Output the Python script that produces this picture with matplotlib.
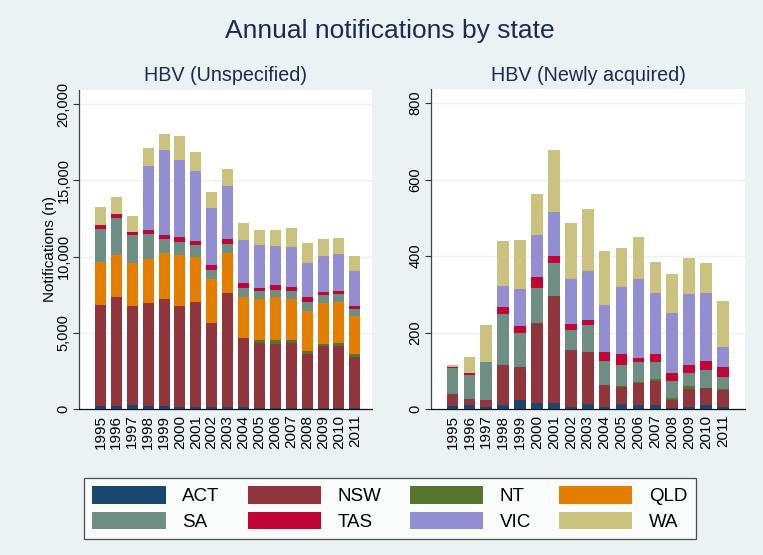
import matplotlib
matplotlib.use("Agg")
import matplotlib.pyplot as plt
import matplotlib.patches as mpatches
from matplotlib.ticker import FuncFormatter
import numpy as np

plt.rcParams['font.family'] = ['Liberation Sans', 'DejaVu Sans']

years = list(range(1995, 2012))
states = ["ACT", "NSW", "NT", "QLD", "SA", "TAS", "VIC", "WA"]
colors = ["#1a476f", "#90353b", "#55752f", "#e37e00", "#6e8e84", "#c10534", "#938dd2", "#cac27e"]

# HBV (Unspecified)
unspec_ACT = [220, 175, 240, 219, 175, 110, 131, 153, 153, 110, 88, 88, 88, 88, 66, 88, 88]
unspec_NSW = [6635, 7162, 6527, 6723, 7030, 6635, 6877, 5475, 7468, 4577, 4226, 4182, 4226, 3504, 4073, 4051, 3350]
unspec_NT = [0, 0, 0, 0, 0, 0, 0, 0, 0, 0, 241, 241, 197, 219, 153, 175, 197]
unspec_QLD = [2800, 2803, 2847, 2891, 3022, 3351, 2957, 2891, 2606, 2650, 2650, 2826, 2694, 2606, 2650, 2738, 2453]
unspec_SA = [2146, 2365, 1796, 1665, 920, 854, 788, 613, 592, 613, 526, 503, 570, 613, 548, 482, 460]
unspec_TAS = [263, 263, 219, 262, 307, 329, 307, 351, 328, 306, 219, 285, 219, 307, 219, 241, 219]
unspec_VIC = [0, 0, 0, 4205, 5540, 5080, 4533, 3701, 3460, 2869, 2825, 2562, 2671, 2233, 2365, 2430, 2278]
unspec_WA = [1183, 1117, 1051, 1139, 1052, 1577, 1248, 1073, 1117, 1095, 1007, 1051, 1205, 1336, 1095, 1052, 1029]

# HBV (Newly acquired)
new_ACT = [9, 10, 5, 10, 24, 17, 17, 5, 12, 5, 14, 11, 11, 3, 5, 10, 5]
new_NSW = [30, 17, 19, 105, 87, 207, 278, 150, 136, 59, 43, 56, 62, 21, 48, 46, 46]
new_NT = [0, 0, 0, 0, 0, 0, 0, 0, 0, 0, 2, 4, 5, 6, 6, 0, 2]
new_QLD = [0, 0, 0, 0, 0, 0, 0, 0, 0, 0, 0, 0, 0, 0, 0, 0, 0]
new_SA = [67, 63, 98, 133, 87, 92, 86, 52, 71, 62, 56, 52, 45, 42, 34, 46, 31]
new_TAS = [3, 5, 2, 20, 18, 29, 19, 15, 14, 24, 29, 11, 20, 21, 22, 24, 26]
new_VIC = [0, 0, 0, 55, 99, 110, 115, 118, 127, 122, 175, 207, 160, 157, 186, 177, 53]
new_WA = [6, 41, 97, 116, 126, 107, 163, 147, 162, 142, 101, 108, 82, 103, 93, 79, 120]

unspec = [unspec_ACT, unspec_NSW, unspec_NT, unspec_QLD, unspec_SA, unspec_TAS, unspec_VIC, unspec_WA]
newly = [new_ACT, new_NSW, new_NT, new_QLD, new_SA, new_TAS, new_VIC, new_WA]

bg = "#eaf2f3"
navy = "#1c2b4f"
W, H = 763, 555
fig = plt.figure(figsize=(W / 100, H / 100), dpi=100, facecolor=bg)

def fx(px):
    return px / W

def fy(py):
    return 1 - py / H

axL = fig.add_axes([fx(79), fy(409), fx(372) - fx(79), fy(90) - fy(409)])
axR = fig.add_axes([fx(431), fy(409), fx(745) - fx(431), fy(89) - fy(409)])

def draw(ax, data, ylim, yticks, fmt, xlim):
    bottom = np.zeros(len(years))
    for vals, c in zip(data, colors):
        v = np.array(vals, dtype=float)
        ax.bar(years, v, bottom=bottom, width=0.69, color=c, edgecolor="none", zorder=3)
        bottom += v
    ax.set_facecolor("white")
    ax.set_ylim(*ylim)
    ax.set_xlim(*xlim)
    ax.set_yticks(yticks)
    ax.yaxis.set_major_formatter(FuncFormatter(fmt))
    ax.set_xticks(years)
    ax.set_xticklabels([str(y) for y in years], rotation=90, fontsize=11)
    ax.tick_params(axis='x', length=0, pad=4)
    ax.tick_params(axis='y', length=4, width=0.8, color="#333333", labelsize=10.5, pad=2)
    for lab in ax.get_yticklabels():
        lab.set_rotation(90)
        lab.set_va('center')
    for t in yticks[1:]:
        ax.axhline(t, color=bg, lw=1.0, zorder=1)
    for s in ["top", "right"]:
        ax.spines[s].set_visible(False)
    ax.spines["left"].set_color("#444444")
    ax.spines["bottom"].set_color("#111111")
    ax.spines["left"].set_linewidth(0.9)
    ax.spines["bottom"].set_linewidth(0.9)

draw(axL, unspec, (0, 20940), [0, 5000, 10000, 15000, 20000],
     lambda v, p: f"{int(v):,}", (1993.65, 2012.08))
draw(axR, newly, (0, 837), [0, 200, 400, 600, 800],
     lambda v, p: f"{int(v)}", (1993.73, 2012.3))

axL.set_ylabel("Notifications (n)", fontsize=11, labelpad=0)

fig.text(fx(390), fy(31), "Annual notifications by state", ha="center", va="center",
         fontsize=19, color=navy)
fig.text((fx(79) + fx(372)) / 2, fy(76), "HBV (Unspecified)", ha="center", va="center",
         fontsize=14.2, color=navy)
fig.text((fx(431) + fx(745)) / 2, fy(76), "HBV (Newly acquired)", ha="center", va="center",
         fontsize=14.2, color=navy)

handles = [mpatches.Patch(facecolor=c, edgecolor="none") for c in colors]
order = [0, 4, 1, 5, 2, 6, 3, 7]
leg = fig.legend([handles[i] for i in order], [states[i] for i in order],
                 ncol=4, loc="center", bbox_to_anchor=(fx(390), fy(508.5)),
                 fontsize=13.5, frameon=True, fancybox=False, edgecolor="#222222",
                 handlelength=3.9, handleheight=1.07, handletextpad=0.9,
                 columnspacing=1.5, labelspacing=0.35, borderpad=0.45)
leg.get_frame().set_linewidth(0.9)

fig.savefig("out.png", dpi=100, facecolor=bg)
